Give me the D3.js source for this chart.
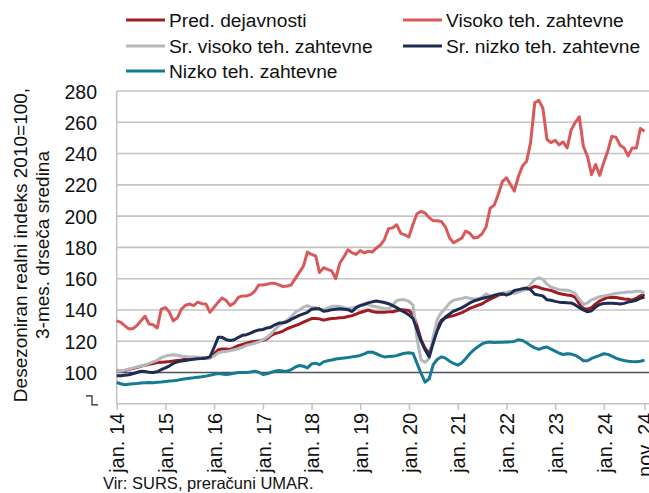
<!DOCTYPE html>
<html><head><meta charset="utf-8">
<script src="https://cdn.jsdelivr.net/npm/d3@7"></script>
<style>
html,body{margin:0;padding:0;background:#fff;}
svg{display:block;font-family:"Liberation Sans",Arial,sans-serif;}
</style></head>
<body><svg id="c" width="649" height="493"></svg>
<script>
// ---- DATA ----
const startYear = 2014, startMonth = 0; // jan. 2014, monthly to nov. 2024
const predDejavnosti = [101,100.8,101.2,102,102.5,103.2,104,104.7,105.2,105.8,106.4,106.6,106.8,107,107.3,107.7,108,108.5,108.8,109,109.3,109.2,109.3,109.4,112,114.5,115,115,114.8,116,117.2,118,118.8,119.5,119.8,120.2,120.6,121.5,123.5,125,125.5,126.5,128,129,130,131,132.2,133.3,134.5,134.5,134.3,133.5,134,134.5,134.7,135,135.2,135.8,136.4,137.3,138.4,139.2,140,139,138.5,138.5,138.6,138.8,138.9,139.5,140.2,140,139.6,137,130,121,115.5,112,120,129,133.5,135,135.8,136.4,137.3,138.3,139.5,141,142,143,143.8,145.5,147,148,149.5,150,150.5,151,151.5,152,152.8,153.3,154,155,154.5,153.5,153,152.5,151.5,150.5,150,149.6,149.3,148,144,141,140.5,141.5,143.9,145.8,147,148,148.2,148,147.5,147,146.8,146.3,147.5,149,150];
const visoko = [133,132,130,128,128,130,133,136,131,130.5,128.5,140.5,141.5,138.5,133,135,140.5,143,143.8,142.8,145,144,143.8,138.5,141.7,145,147.7,146,142.8,144.5,148,149,149,149.8,152,156,156,156.5,157,157,156,155,155.3,156,160,164,168,177,175.5,174.5,164,167,166,165,160,170,174,178.5,176.5,175.5,178,176.5,177.5,177,179.5,181.5,185,192,192.5,194.5,189,188,186.7,195,201.5,203,202,199,197,197,196.5,193,186,183,184.5,186,190.5,189,186,186.5,188.6,193,205,207,214,222,224.5,220,216,225.5,232,235,247,272.5,274,269,249,247,248.5,245.5,247.5,243.6,255,260,263.5,244.5,238,226.5,233,226,234.5,242,251,250.5,245.5,243.6,238.5,243.6,243.6,256,254.3];
const srVisoko = [100.8,101,101.5,102.2,102.8,103.5,104.2,104.8,105.8,106.8,107.8,109.5,110.5,111,111.4,111,110.4,110.2,110,109.9,109.8,109.7,109.5,109.3,110.5,112.5,113.2,113.5,114,114.6,115.2,116.2,117.4,118,118.7,119.5,121,122.5,124.5,127.5,130,131.5,133.5,135.5,138.5,140,141.8,142.8,141.5,141.5,140.5,140,141.2,142.3,142.3,142.2,141.5,141,141.2,142,143,144,143.5,142.5,142,141.5,141,140.6,143,146,146.5,146.5,145.5,143,122,108,106.5,109,123,134,138.5,141,144.5,146.3,146.8,147.4,148,147.5,147,147,148,150.3,149,149.5,150,150.8,151.2,152,150.5,151.5,152.5,153.5,156.5,159.5,160.5,159.5,156.5,154.7,153.8,153,152.8,152.6,152,150.5,147,143.5,144.5,146.5,147.5,148.5,149,149.5,150,150.5,151,151.2,151.5,151.5,152,152,151];
const srNizko = [97.9,98,98.3,98.6,99.2,100,100.8,100.6,100.2,100,100.5,101.8,103,104.3,105.8,106.8,107.3,107.7,108.1,108.5,108.8,109,109.3,110,116,122.5,122.5,121,120.5,121,122.5,123.8,124.2,125.2,126.5,127.2,127.5,128.5,129,130.5,131.6,131.8,132.5,134,135.3,136.5,137.5,138.5,140.5,140.8,140.7,139.2,139.5,140.2,140.5,140.7,140.5,140.2,139,141.5,142.8,143.5,144.5,145.2,145.7,145.3,144.8,144,142.8,141.5,139.8,138.5,136.8,134.5,127.5,120,114.5,110,119,127,132.5,135.5,137.5,139.3,140.3,141.5,142.8,144.5,145.7,146.5,147.3,148,148.5,149.3,150,150.4,149.5,150.5,152.5,153,153.5,154,153,150,149.5,149,146.5,146.2,145.5,145,144.8,144.6,144.5,143.2,141.5,140,138.8,139.5,142,143.5,144.2,144.3,144.3,144.2,143.8,144.2,145,145.5,146.2,147.5,148.3];
const nizko = [93.6,92.8,92.2,92.5,92.8,93,93.3,93.5,93.6,93.4,93.8,94,94.3,94.6,94.8,95.1,95.6,96,96.4,96.6,97,97.3,97.7,98.2,98.8,99.4,99.1,98.8,99,99.5,100,100,100,100.3,100.8,100.2,98.8,99.2,100,100.8,101.3,101,100.8,101.8,103.5,104.5,104,103,105.5,106,105,106.8,107.5,108,108.6,109,109.3,109.6,110,110.4,110.9,111.9,113,113.1,112,110.8,110,110.2,110.4,110.8,111.7,112.3,112.7,112.2,106,99.4,93.8,96,105,108.5,110,109.2,107.2,105.8,104.7,106.2,108.8,112,114.5,116.5,118.3,119.2,119.5,119.2,119.3,119.4,119.5,119.6,119.9,121,120.5,119,117.2,115.8,114.8,115.8,116.3,115,113.7,112.3,111.5,112,111.8,111,109.5,107.5,107.5,109,110,111,112,111.6,110.5,109.2,108.3,107.7,107.2,107,106.9,107.2,107.8];
const seriesNames = ["Pred. dejavnosti","Visoko teh. zahtevne","Sr. visoko teh. zahtevne","Sr. nizko teh. zahtevne","Nizko teh. zahtevne"];
const seriesColors = ["#a01c22","#d9595b","#b3b8bd","#1e2b52","#167a94"];
const yTicks = [100,120,140,160,180,200,220,240,260,280];
const xTickIdx = [0,12,24,36,48,60,72,84,96,108,120,130];
const xTickLabels = ["jan. 14","jan. 15","jan. 16","jan. 17","jan. 18","jan. 19","jan. 20","jan. 21","jan. 22","jan. 23","jan. 24","nov. 24"];
const yTitle = ["Desezoniran realni indeks 2010=100,","3-mes. drseča sredina"];
const source = "Vir: SURS, preračuni UMAR.";

// ---- CHART ----
const svg = d3.select("#c");
const allSeries = [predDejavnosti, visoko, srVisoko, srNizko, nizko];
const dateOf = i => new Date(startYear, startMonth + i, 1);
const L = 116.7, R = 644.5, T = 91, B = 403.8;
const x = d3.scaleTime().domain([dateOf(0), dateOf(predDejavnosti.length - 1)]).range([L, R]);
const y = d3.scaleLinear().domain([80, 280]).range([B, T]);

// gridlines
svg.append("g").selectAll("line").data(yTicks).join("line")
  .attr("x1", L).attr("x2", 649)
  .attr("y1", d => y(d)).attr("y2", d => y(d))
  .attr("stroke", d => d === 100 ? "#4d5256" : "#c4c4c4")
  .attr("stroke-width", 1.6);

// y axis labels
const yAxis = d3.axisLeft(y).tickValues(yTicks).tickSize(0).tickPadding(0).tickFormat(d3.format("d"));
const gy = svg.append("g").attr("transform", `translate(${97},0)`).call(yAxis);
gy.select(".domain").remove();
gy.selectAll("text").attr("font-size", 19.5).attr("fill", "#111").attr("dy", "0.36em")
  .attr("font-family", "Liberation Sans, Arial, sans-serif");

// axis break glyph at 80
svg.append("path")
  .attr("d", `M86,${y(80) - 8}H92V${y(80) + 1}H98`)
  .attr("fill", "none").attr("stroke", "#222").attr("stroke-width", 1.2);

// left axis line
svg.append("line").attr("x1", L).attr("x2", L).attr("y1", T).attr("y2", B)
  .attr("stroke", "#c4c4c4").attr("stroke-width", 1.6);

// x axis
const xAxis = d3.axisBottom(x).tickValues(xTickIdx.map(dateOf))
  .tickFormat((d, i) => xTickLabels[i]).tickSize(6).tickSizeOuter(0);
const gx = svg.append("g").attr("transform", `translate(0,${B})`).call(xAxis);
gx.select(".domain").attr("stroke", "#c4c4c4").attr("stroke-width", 1.6).attr("d", `M${L},0H649`);
gx.selectAll(".tick line").attr("stroke", "#c4c4c4").attr("stroke-width", 1.6);
gx.selectAll("text")
  .attr("font-size", 20).attr("fill", "#111")
  .attr("font-family", "Liberation Sans, Arial, sans-serif")
  .attr("text-anchor", "end")
  .attr("transform", "rotate(-90)")
  .attr("x", -9).attr("y", 0).attr("dy", "0.36em");

// lines
const line = d3.line().x((d, i) => x(dateOf(i))).y(d => y(d));
svg.append("g").selectAll("path").data(allSeries).join("path")
  .attr("d", line)
  .attr("fill", "none")
  .attr("stroke", (d, i) => seriesColors[i])
  .attr("stroke-width", 3)
  .attr("stroke-linejoin", "round");

// legend
const legPos = [[126, 20], [403, 20], [126, 46], [403, 46], [126, 71]];
const lg = svg.append("g").selectAll("g").data(seriesNames).join("g")
  .attr("transform", (d, i) => `translate(${legPos[i][0]},${legPos[i][1]})`);
lg.append("line").attr("x1", 0).attr("x2", 39).attr("y1", 0).attr("y2", 0)
  .attr("stroke", (d, i) => seriesColors[i]).attr("stroke-width", 3);
lg.append("text").attr("x", 43).attr("y", 0).attr("dy", "0.35em")
  .attr("font-size", 19.2).attr("fill", "#111").text(d => d);

// y title
svg.append("g").selectAll("text").data(yTitle).join("text")
  .attr("transform", (d, i) => `translate(${i === 0 ? 27 : 49},245) rotate(-90)`)
  .attr("text-anchor", "middle")
  .attr("font-size", 19).attr("fill", "#111").text(d => d);

// source
svg.append("text").attr("x", 103).attr("y", 489).attr("font-size", 16.5).attr("fill", "#111").text(source);
</script></body></html>
